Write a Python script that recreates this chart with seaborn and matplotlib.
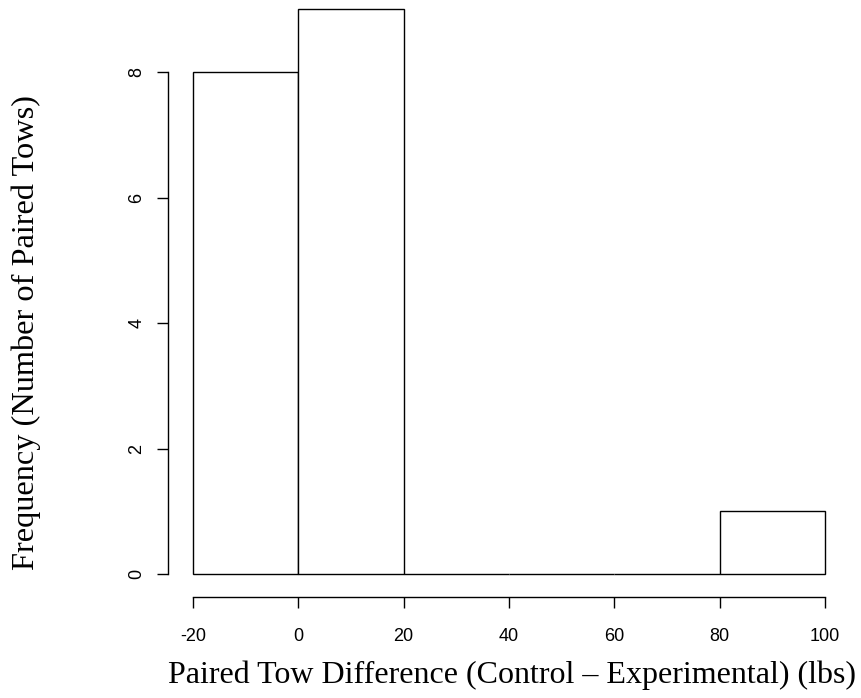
import matplotlib
matplotlib.use("Agg")
import matplotlib.pyplot as plt
import seaborn as sns
import numpy as np
import pandas as pd

# Histogram of paired tow differences (bin edges and counts per bin)
bin_edges = [-20, 0, 20, 40, 60, 80, 100]
bin_counts = [8, 9, 0, 0, 0, 1]
x_ticks = [-20, 0, 20, 40, 60, 80, 100]
y_ticks = [0, 2, 4, 6, 8]

bin_centers = [(a + b) / 2 for a, b in zip(bin_edges[:-1], bin_edges[1:])]
df = pd.DataFrame({"diff": bin_centers, "count": bin_counts})

sns.set_style("ticks")

W, H = 861, 698
fig = plt.figure(figsize=(W / 100, H / 100), dpi=100)
ax = fig.add_axes([167.7 / W, 1 - 596.6 / H, (850.3 - 167.7) / W, 596.6 / H])

sns.histplot(data=df, x="diff", weights="count", bins=bin_edges, ax=ax,
             color="white", edgecolor="black", linewidth=1.0, alpha=1.0)

ax.set_xlim(-24.8, 104.8)
ax.set_ylim(-0.36, 574 / 62.75)

for side in ["top", "right"]:
    ax.spines[side].set_visible(False)
ax.spines["left"].set_bounds(0, 8)
ax.spines["bottom"].set_bounds(-20, 100)
for side in ["left", "bottom"]:
    ax.spines[side].set_linewidth(1.0)
    ax.spines[side].set_color("black")

ax.set_xticks(x_ticks)
ax.set_yticks(y_ticks)
ax.set_xticklabels([str(v) for v in x_ticks], family="Liberation Sans", fontsize=13)
ax.set_yticklabels([str(v) for v in y_ticks], family="Liberation Sans", fontsize=13,
                   rotation=90, va="center")
ax.tick_params(axis="x", direction="out", length=8, width=1.0, color="black",
               labelcolor="black", bottom=True, pad=14.5)
ax.tick_params(axis="y", direction="out", length=8, width=1.0, color="black",
               labelcolor="black", left=True, pad=8)

ax.set_xlabel("Paired Tow Difference (Control \u2013 Experimental) (lbs)",
              family="Liberation Serif", fontsize=23, color="black")
ax.set_ylabel("Frequency (Number of Paired Tows)",
              family="Liberation Serif", fontsize=23.3, color="black")
ax.xaxis.label.set_verticalalignment("baseline")
ax.xaxis.set_label_coords(511.5 / W, 1 - 683 / H, transform=fig.transFigure)
ax.yaxis.label.set_verticalalignment("baseline")
ax.yaxis.set_label_coords(34 / W, 1 - 332.5 / H, transform=fig.transFigure)

fig.savefig("out.png", dpi=100)
